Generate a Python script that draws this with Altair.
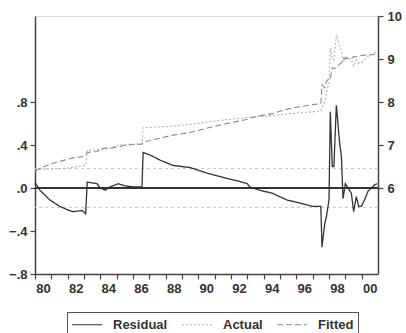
import altair as alt
import pandas as pd

# decimal-year time points
T = [1980.0, 1980.3, 1980.9, 1981.5, 1981.95, 1982.3, 1982.9, 1983.1, 1983.2, 1983.8,
     1984.0, 1984.3, 1984.6, 1985.1, 1985.5, 1986.0, 1986.55, 1986.62, 1987.0, 1987.65,
     1988.45, 1989.5, 1990.5, 1991.5, 1992.55, 1993.0, 1993.15, 1993.75, 1994.55, 1995.4,
     1996.2, 1997.0, 1997.5, 1997.57, 1997.74, 1997.84, 1998.0, 1998.08, 1998.2, 1998.3,
     1998.45, 1998.65, 1998.76, 1998.86, 1999.0, 1999.16, 1999.37, 1999.51, 1999.67, 1999.82,
     1999.98, 2000.18, 2000.39, 2000.59, 2000.8, 2000.94]

RESIDUAL = [0.05, -0.02, -0.11, -0.17, -0.20, -0.22, -0.21, -0.24, 0.055, 0.04,
            0.0, -0.02, 0.01, 0.04, 0.02, 0.01, 0.01, 0.33, 0.31, 0.26,
            0.21, 0.19, 0.14, 0.10, 0.06, 0.04, 0.01, -0.02, -0.05, -0.11,
            -0.14, -0.17, -0.17, -0.55, -0.33, -0.27, -0.11, 0.71, 0.20, 0.20,
            0.77, 0.42, 0.29, -0.10, 0.04, 0.0, -0.05, -0.22, -0.08, -0.17,
            -0.17, -0.11, -0.03, 0.0, 0.03, 0.04]

ACTUAL = [6.44, 6.44, 6.44, 6.45, 6.46, 6.48, 6.52, 6.53, 6.88, 6.89,
          6.90, 6.91, 6.93, 7.00, 7.01, 7.02, 7.03, 7.40, 7.41, 7.42,
          7.44, 7.48, 7.53, 7.58, 7.62, 7.64, 7.64, 7.66, 7.68, 7.72,
          7.75, 7.77, 7.79, 7.85, 8.00, 8.20, 8.45, 9.25, 9.00, 8.98,
          9.56, 9.30, 9.20, 8.92, 9.05, 9.02, 8.98, 8.83, 8.98, 8.90,
          8.91, 8.98, 9.06, 9.10, 9.14, 9.16]

FITTED = [6.39, 6.46, 6.55, 6.62, 6.66, 6.70, 6.73, 6.77, 6.825, 6.85,
          6.90, 6.93, 6.92, 6.96, 6.99, 7.01, 7.02, 7.07, 7.10, 7.16,
          7.23, 7.29, 7.39, 7.48, 7.56, 7.60, 7.63, 7.68, 7.73, 7.83,
          7.89, 7.94, 7.96, 8.40, 8.33, 8.47, 8.56, 8.54, 8.80, 8.78,
          8.79, 8.88, 8.91, 9.02, 9.01, 9.02, 9.03, 9.05, 9.06, 9.07,
          9.08, 9.09, 9.09, 9.10, 9.11, 9.12]

SERIES = ["Residual", "Actual", "Fitted"]
ZERO = [0.0]
SE_BAND = [-0.18, 0.18]
LEFT_TICKS = [-0.8, -0.4, 0.0, 0.4, 0.8]
RIGHT_TICKS = [6, 7, 8, 9, 10]
YEAR_TICKS = list(range(1980, 2001))

df_res = pd.DataFrame({"t": T, "value": RESIDUAL, "series": "Residual"})
df_af = pd.concat([
    pd.DataFrame({"t": T, "value": ACTUAL, "series": "Actual"}),
    pd.DataFrame({"t": T, "value": FITTED, "series": "Fitted"}),
])
df_zero = pd.DataFrame({"v": ZERO})
df_se = pd.DataFrame({"v": SE_BAND})

FONT = "Liberation Sans"
DARK = "#333333"
AX = dict(labelFont=FONT, labelFontSize=13, labelFontWeight="bold", labelColor=DARK,
          domainColor="#444444", domainWidth=1.5, tickColor="#444444", tickWidth=1.2,
          tickSize=5, title=None, grid=False)

xenc = alt.X("t:Q", scale=alt.Scale(domain=[1980, 2001], nice=False, zero=False),
             axis=alt.Axis(values=YEAR_TICKS,
                           labelExpr="datum.value % 2 == 0 ? slice(toString(datum.value), 2) : ''",
                           labelOffset=8, labelOverlap=False, labelFlush=False,
                           labelPadding=3, **AX))


def make_legend():
    return alt.Legend(
        title=None, orient="none", legendX=32, legendY=296, direction="horizontal", columns=3,
        strokeColor="#555555", fillColor="white", padding=4, columnPadding=11,
        symbolType="M-1,0H3", symbolSize=225, symbolStrokeWidth=1.2, labelOffset=25,
        labelFont=FONT, labelFontSize=13, labelFontWeight="bold", labelColor=DARK, labelLimit=0,
    )


color = alt.Color("series:N", scale=alt.Scale(domain=SERIES, range=["#333333", "#b0b0b0", "#8a8a8a"]),
                  legend=make_legend())
dash = alt.StrokeDash("series:N", scale=alt.Scale(domain=SERIES, range=[[1, 0], [2, 2], [6, 3]]),
                      legend=make_legend())

left_scale = alt.Scale(domain=[-0.8, 1.6], nice=False, zero=False)

resid = alt.Chart(df_res).mark_line(strokeWidth=1.3).encode(
    x=xenc,
    y=alt.Y("value:Q", scale=left_scale,
            axis=alt.Axis(values=LEFT_TICKS, labelPadding=3,
                          labelExpr="replace(format(datum.value, '.1f'), '0.', '.')", **AX)),
    color=color, strokeDash=dash,
)

zero = alt.Chart(df_zero).mark_rule(color=DARK, strokeWidth=2).encode(
    y=alt.Y("v:Q", scale=left_scale, axis=None))

se = alt.Chart(df_se).mark_rule(color="#c4c4c4", strokeWidth=1, strokeDash=[3, 3]).encode(
    y=alt.Y("v:Q", scale=left_scale, axis=None))

actfit = alt.Chart(df_af).mark_line(strokeWidth=1.1).encode(
    x=xenc,
    y=alt.Y("value:Q", scale=alt.Scale(domain=[4, 10], nice=False, zero=False),
            axis=alt.Axis(values=RIGHT_TICKS, orient="right", labelPadding=4, format="d", **AX)),
    color=color, strokeDash=dash,
)

chart = alt.layer(se, zero, actfit, resid).resolve_scale(y="independent").properties(
    width=343, height=258,
    autosize=alt.AutoSizeParams(type="none"),
    padding={"left": 35, "top": 16, "right": 28, "bottom": 59},
).configure_view(
    stroke="#444444", strokeWidth=1.5
).configure(background="white")

chart.save("out.html", embed_options={"renderer": "svg", "actions": False})
